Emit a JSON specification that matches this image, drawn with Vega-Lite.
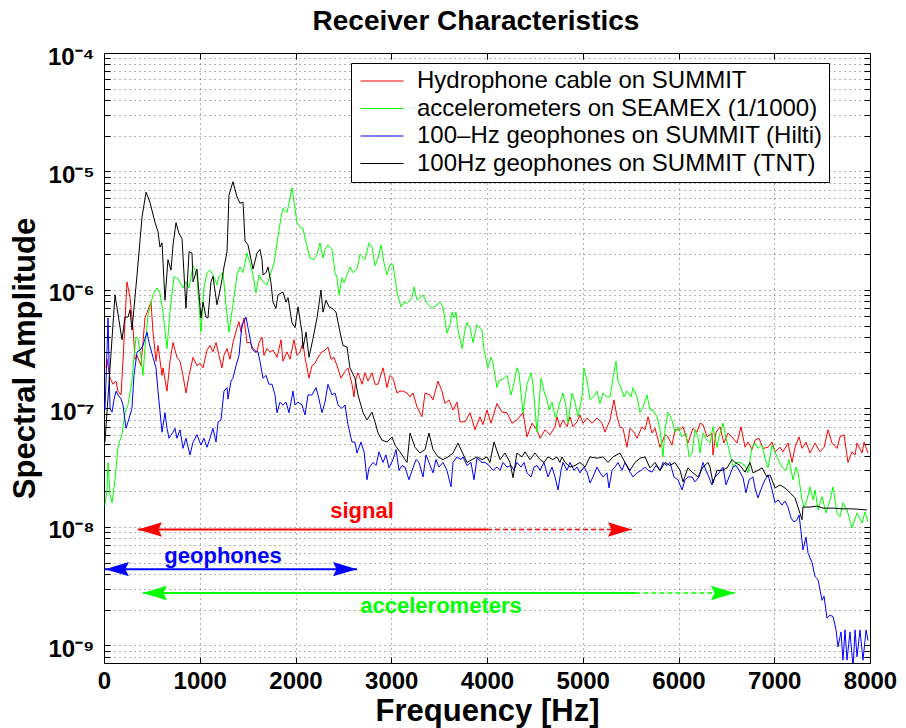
{
  "$schema": "https://vega.github.io/schema/vega-lite/v6.json",
  "width": 766,
  "height": 610,
  "autosize": {"type": "none"},
  "padding": {"left": 104, "top": 53, "right": 36, "bottom": 65},
  "background": "white",
  "config": {
    "font": "Liberation Sans",
    "view": {"stroke": "#000000", "strokeWidth": 1},
    "axis": {
      "domain": false,
      "grid": true,
      "gridDash": [1, 4],
      "gridColor": "#000000",
      "gridOpacity": 0.6,
      "tickColor": "#000000",
      "tickSize": -6,
      "labelColor": "#000000",
      "labelFontSize": 24,
      "labelFontWeight": "bold",
      "labelFlush": false,
      "labelOverlap": false,
      "labelBound": false,
      "titleColor": "#000000",
      "titleFontSize": 31,
      "titleFontWeight": "bold"
    }
  },
  "title": {"text": "Receiver Characteristics", "fontSize": 28, "fontWeight": "bold", "color": "#000000", "offset": 9, "anchor": "middle", "dx": -11},
  "datasets": {
    "hyd": [{"f":21,"a":2.2e-7},{"f":31,"a":2.6e-7},{"f":63,"a":1.8e-7},{"f":94,"a":1.6e-7},{"f":125,"a":1.7e-7},{"f":146,"a":1.4e-7},{"f":178,"a":1.3e-7},{"f":198,"a":2.5e-7},{"f":240,"a":1.17e-6},{"f":272,"a":8.6e-7},{"f":303,"a":4.8e-7},{"f":324,"a":2.6e-7},{"f":345,"a":2.8e-7},{"f":386,"a":2.3e-7},{"f":407,"a":3.6e-7},{"f":428,"a":5.8e-7},{"f":460,"a":6.8e-7},{"f":491,"a":7.9e-7},{"f":512,"a":4.4e-7},{"f":543,"a":2.5e-7},{"f":564,"a":3.4e-7},{"f":606,"a":1.9e-7},{"f":616,"a":2.2e-7},{"f":658,"a":1.4e-7},{"f":689,"a":2.5e-7},{"f":721,"a":3.6e-7},{"f":762,"a":2.7e-7},{"f":794,"a":2.5e-7},{"f":825,"a":1.9e-7},{"f":856,"a":1.35e-7},{"f":888,"a":1.9e-7},{"f":930,"a":2.7e-7},{"f":971,"a":2.3e-7},{"f":1003,"a":2.4e-7},{"f":1034,"a":2.2e-7},{"f":1076,"a":3.1e-7},{"f":1107,"a":3.4e-7},{"f":1138,"a":3.0e-7},{"f":1170,"a":3.6e-7},{"f":1201,"a":2.8e-7},{"f":1232,"a":2.2e-7},{"f":1253,"a":2.8e-7},{"f":1285,"a":3.2e-7},{"f":1316,"a":2.6e-7},{"f":1347,"a":3.6e-7},{"f":1389,"a":4.8e-7},{"f":1410,"a":5.4e-7},{"f":1431,"a":4.4e-7},{"f":1462,"a":5.8e-7},{"f":1493,"a":3.6e-7},{"f":1525,"a":3.6e-7},{"f":1556,"a":3.2e-7},{"f":1598,"a":3.0e-7},{"f":1619,"a":3.6e-7},{"f":1650,"a":4.0e-7},{"f":1671,"a":2.8e-7},{"f":1702,"a":3.2e-7},{"f":1734,"a":3.0e-7},{"f":1765,"a":3.1e-7},{"f":1807,"a":2.7e-7},{"f":1849,"a":3.8e-7},{"f":1869,"a":2.5e-7},{"f":1911,"a":3.0e-7},{"f":1943,"a":2.6e-7},{"f":1984,"a":3.8e-7},{"f":2016,"a":2.8e-7},{"f":2047,"a":3.0e-7},{"f":2078,"a":3.6e-7},{"f":2099,"a":2.7e-7},{"f":2141,"a":1.8e-7},{"f":2172,"a":2.3e-7},{"f":2204,"a":2.4e-7},{"f":2235,"a":2.7e-7},{"f":2277,"a":3.0e-7},{"f":2308,"a":3.1e-7},{"f":2339,"a":3.3e-7},{"f":2371,"a":2.6e-7},{"f":2402,"a":2.7e-7},{"f":2433,"a":2.3e-7},{"f":2475,"a":1.8e-7},{"f":2507,"a":2.0e-7},{"f":2548,"a":2.2e-7},{"f":2590,"a":1.6e-7},{"f":2611,"a":1.25e-7},{"f":2632,"a":1.8e-7},{"f":2653,"a":2.0e-7},{"f":2695,"a":1.6e-7},{"f":2726,"a":2.0e-7},{"f":2757,"a":1.7e-7},{"f":2799,"a":2.0e-7},{"f":2830,"a":1.6e-7},{"f":2862,"a":1.6e-7},{"f":2914,"a":2.2e-7},{"f":2956,"a":1.5e-7},{"f":2987,"a":1.9e-7},{"f":3018,"a":1.8e-7},{"f":3060,"a":1.35e-7},{"f":3091,"a":1.4e-7},{"f":3123,"a":1.4e-7},{"f":3165,"a":1.35e-7},{"f":3196,"a":1.25e-7},{"f":3227,"a":1.35e-7},{"f":3269,"a":1.03e-7},{"f":3321,"a":8.5e-8},{"f":3353,"a":1.35e-7},{"f":3405,"a":1.3e-7},{"f":3436,"a":1.18e-7},{"f":3488,"a":1.7e-7},{"f":3530,"a":1.4e-7},{"f":3561,"a":1.1e-7},{"f":3603,"a":1.18e-7},{"f":3645,"a":9.7e-8},{"f":3687,"a":1.13e-7},{"f":3718,"a":7.7e-8},{"f":3770,"a":7.7e-8},{"f":3823,"a":9.2e-8},{"f":3875,"a":6.6e-8},{"f":3927,"a":8.5e-8},{"f":3958,"a":7.3e-8},{"f":4000,"a":9.7e-8},{"f":4042,"a":7.5e-8},{"f":4104,"a":1.1e-7},{"f":4157,"a":9.3e-8},{"f":4209,"a":9.2e-8},{"f":4261,"a":7.5e-8},{"f":4313,"a":8.0e-8},{"f":4376,"a":9.2e-8},{"f":4418,"a":5.75e-8},{"f":4470,"a":7.5e-8},{"f":4522,"a":6.6e-8},{"f":4554,"a":5.6e-8},{"f":4606,"a":6.6e-8},{"f":4658,"a":6.0e-8},{"f":4710,"a":7.0e-8},{"f":4731,"a":8.5e-8},{"f":4762,"a":7.0e-8},{"f":4794,"a":8.0e-8},{"f":4836,"a":7.0e-8},{"f":4867,"a":8.5e-8},{"f":4898,"a":7.0e-8},{"f":4940,"a":7.7e-8},{"f":4971,"a":8.8e-8},{"f":5003,"a":7.5e-8},{"f":5045,"a":8.3e-8},{"f":5097,"a":7.5e-8},{"f":5149,"a":8.3e-8},{"f":5201,"a":7.5e-8},{"f":5232,"a":6.3e-8},{"f":5285,"a":8.0e-8},{"f":5326,"a":1.18e-7},{"f":5358,"a":8.5e-8},{"f":5389,"a":7.0e-8},{"f":5420,"a":6.8e-8},{"f":5462,"a":4.7e-8},{"f":5493,"a":6.8e-8},{"f":5535,"a":6.3e-8},{"f":5567,"a":5.6e-8},{"f":5619,"a":7.0e-8},{"f":5650,"a":6.6e-8},{"f":5682,"a":8.5e-8},{"f":5723,"a":6.2e-8},{"f":5755,"a":6.8e-8},{"f":5807,"a":4.7e-8},{"f":5859,"a":6.0e-8},{"f":5890,"a":5.75e-8},{"f":5932,"a":4.9e-8},{"f":5963,"a":6.6e-8},{"f":6016,"a":6.6e-8},{"f":6047,"a":7.0e-8},{"f":6099,"a":5.1e-8},{"f":6151,"a":6.8e-8},{"f":6193,"a":6.3e-8},{"f":6225,"a":7.5e-8},{"f":6256,"a":7.3e-8},{"f":6298,"a":5.75e-8},{"f":6350,"a":6.2e-8},{"f":6360,"a":4.05e-8},{"f":6392,"a":6.3e-8},{"f":6433,"a":7.0e-8},{"f":6475,"a":5.1e-8},{"f":6517,"a":6.2e-8},{"f":6559,"a":5.75e-8},{"f":6611,"a":5.1e-8},{"f":6653,"a":7.0e-8},{"f":6695,"a":4.7e-8},{"f":6726,"a":5.2e-8},{"f":6768,"a":4.5e-8},{"f":6799,"a":5.4e-8},{"f":6841,"a":5.6e-8},{"f":6883,"a":4.6e-8},{"f":6935,"a":4.7e-8},{"f":6977,"a":5.2e-8},{"f":7008,"a":4.3e-8},{"f":7060,"a":4.7e-8},{"f":7091,"a":4.3e-8},{"f":7144,"a":5.1e-8},{"f":7186,"a":3.5e-8},{"f":7217,"a":4.7e-8},{"f":7259,"a":5.75e-8},{"f":7290,"a":4.6e-8},{"f":7332,"a":5.2e-8},{"f":7374,"a":4.2e-8},{"f":7426,"a":5.1e-8},{"f":7478,"a":4.3e-8},{"f":7520,"a":4.7e-8},{"f":7562,"a":6.6e-8},{"f":7603,"a":5.1e-8},{"f":7656,"a":4.6e-8},{"f":7687,"a":5.75e-8},{"f":7729,"a":6.0e-8},{"f":7770,"a":3.5e-8},{"f":7812,"a":4.3e-8},{"f":7844,"a":4.05e-8},{"f":7864,"a":5.1e-8},{"f":7917,"a":4.2e-8},{"f":7938,"a":5.2e-8},{"f":7979,"a":4.2e-8}],
    "acc": [{"f":10,"a":1.53e-8},{"f":31,"a":2.05e-8},{"f":42,"a":3.5e-8},{"f":63,"a":1.86e-8},{"f":84,"a":1.6e-8},{"f":115,"a":2.5e-8},{"f":146,"a":4.7e-8},{"f":167,"a":5.4e-8},{"f":188,"a":6.0e-8},{"f":219,"a":9.2e-8},{"f":251,"a":1.07e-7},{"f":292,"a":1.7e-7},{"f":303,"a":2.2e-7},{"f":334,"a":4.0e-7},{"f":355,"a":3.9e-7},{"f":386,"a":2.7e-7},{"f":407,"a":1.9e-7},{"f":428,"a":3.2e-7},{"f":460,"a":6.2e-7},{"f":512,"a":9.1e-7},{"f":554,"a":1.04e-6},{"f":585,"a":9.4e-7},{"f":616,"a":6.5e-7},{"f":658,"a":3.2e-7},{"f":689,"a":6.5e-7},{"f":731,"a":1.3e-6},{"f":773,"a":1.24e-6},{"f":825,"a":1.04e-6},{"f":856,"a":1.17e-6},{"f":888,"a":1.04e-6},{"f":930,"a":1.6e-6},{"f":971,"a":1.34e-6},{"f":982,"a":9.6e-7},{"f":1013,"a":4.4e-7},{"f":1044,"a":1.04e-6},{"f":1076,"a":1.4e-6},{"f":1107,"a":1.47e-6},{"f":1138,"a":1.34e-6},{"f":1180,"a":1.1e-6},{"f":1201,"a":1.3e-6},{"f":1243,"a":1.4e-6},{"f":1274,"a":7.5e-7},{"f":1305,"a":4.4e-7},{"f":1347,"a":7.5e-7},{"f":1389,"a":1.34e-6},{"f":1420,"a":1.56e-6},{"f":1452,"a":1.4e-6},{"f":1493,"a":2.05e-6},{"f":1514,"a":1.8e-6},{"f":1556,"a":1.34e-6},{"f":1587,"a":9.4e-7},{"f":1619,"a":1.34e-6},{"f":1661,"a":1.17e-6},{"f":1702,"a":1.1e-6},{"f":1744,"a":1.4e-6},{"f":1776,"a":1.7e-6},{"f":1807,"a":2.5e-6},{"f":1849,"a":4.1e-6},{"f":1869,"a":4.9e-6},{"f":1911,"a":4.5e-6},{"f":1932,"a":5.4e-6},{"f":1963,"a":7.3e-6},{"f":1984,"a":5.5e-6},{"f":2016,"a":3.7e-6},{"f":2047,"a":3.4e-6},{"f":2078,"a":3.3e-6},{"f":2110,"a":2.5e-6},{"f":2151,"a":1.86e-6},{"f":2193,"a":1.8e-6},{"f":2225,"a":2.0e-6},{"f":2256,"a":2.5e-6},{"f":2287,"a":1.86e-6},{"f":2308,"a":2.2e-6},{"f":2339,"a":2.4e-6},{"f":2381,"a":2.2e-6},{"f":2413,"a":1.4e-6},{"f":2433,"a":1.27e-6},{"f":2454,"a":9.1e-7},{"f":2486,"a":1.27e-6},{"f":2507,"a":1.15e-6},{"f":2538,"a":1.34e-6},{"f":2569,"a":1.56e-6},{"f":2601,"a":1.4e-6},{"f":2642,"a":1.5e-6},{"f":2674,"a":2.0e-6},{"f":2726,"a":1.8e-6},{"f":2768,"a":2.5e-6},{"f":2799,"a":2.3e-6},{"f":2830,"a":1.6e-6},{"f":2862,"a":1.86e-6},{"f":2893,"a":2.4e-6},{"f":2924,"a":1.7e-6},{"f":2956,"a":1.34e-6},{"f":2987,"a":1.65e-6},{"f":3018,"a":1.65e-6},{"f":3060,"a":9.6e-7},{"f":3102,"a":7.2e-7},{"f":3133,"a":7.9e-7},{"f":3165,"a":7.7e-7},{"f":3196,"a":8.2e-7},{"f":3217,"a":8.7e-7},{"f":3238,"a":1.06e-6},{"f":3269,"a":8.2e-7},{"f":3300,"a":8.6e-7},{"f":3332,"a":9.1e-7},{"f":3373,"a":7.7e-7},{"f":3426,"a":7.0e-7},{"f":3478,"a":7.5e-7},{"f":3509,"a":7.9e-7},{"f":3540,"a":7.2e-7},{"f":3561,"a":5.6e-7},{"f":3582,"a":4.3e-7},{"f":3614,"a":5.1e-7},{"f":3635,"a":6.5e-7},{"f":3655,"a":5.8e-7},{"f":3676,"a":6.5e-7},{"f":3697,"a":4.6e-7},{"f":3739,"a":3.2e-7},{"f":3770,"a":4.6e-7},{"f":3791,"a":5.3e-7},{"f":3823,"a":4.8e-7},{"f":3854,"a":3.6e-7},{"f":3875,"a":4.3e-7},{"f":3896,"a":5.1e-7},{"f":3948,"a":4.6e-7},{"f":3969,"a":3.1e-7},{"f":3990,"a":2.6e-7},{"f":4010,"a":2.2e-7},{"f":4042,"a":2.7e-7},{"f":4063,"a":2.4e-7},{"f":4104,"a":1.5e-7},{"f":4125,"a":1.7e-7},{"f":4178,"a":1.8e-7},{"f":4209,"a":1.9e-7},{"f":4251,"a":1.3e-7},{"f":4272,"a":1.5e-7},{"f":4313,"a":2.2e-7},{"f":4334,"a":2.0e-7},{"f":4376,"a":9.2e-8},{"f":4418,"a":1.6e-7},{"f":4460,"a":2.0e-7},{"f":4480,"a":1.6e-7},{"f":4522,"a":6.3e-8},{"f":4564,"a":1.8e-7},{"f":4595,"a":1.4e-7},{"f":4627,"a":1.18e-7},{"f":4648,"a":9.7e-8},{"f":4679,"a":1.13e-7},{"f":4710,"a":8.5e-8},{"f":4721,"a":8.3e-8},{"f":4752,"a":1.07e-7},{"f":4794,"a":1.35e-7},{"f":4825,"a":1.03e-7},{"f":4846,"a":7.5e-8},{"f":4888,"a":1.35e-7},{"f":4919,"a":1.13e-7},{"f":4950,"a":8.5e-8},{"f":4992,"a":1.25e-7},{"f":5013,"a":2.2e-7},{"f":5045,"a":1.7e-7},{"f":5076,"a":1.18e-7},{"f":5107,"a":1.25e-7},{"f":5149,"a":1.4e-7},{"f":5180,"a":1.1e-7},{"f":5212,"a":1.35e-7},{"f":5253,"a":1.25e-7},{"f":5285,"a":1.25e-7},{"f":5316,"a":1.8e-7},{"f":5347,"a":2.5e-7},{"f":5368,"a":1.7e-7},{"f":5399,"a":1.5e-7},{"f":5431,"a":1.25e-7},{"f":5462,"a":1.4e-7},{"f":5504,"a":1.25e-7},{"f":5525,"a":1.5e-7},{"f":5567,"a":1.25e-7},{"f":5598,"a":9.2e-8},{"f":5630,"a":1.03e-7},{"f":5671,"a":1.3e-7},{"f":5702,"a":9.7e-8},{"f":5734,"a":9.7e-8},{"f":5776,"a":8.5e-8},{"f":5807,"a":6.6e-8},{"f":5838,"a":3.9e-8},{"f":5859,"a":6.6e-8},{"f":5890,"a":9.3e-8},{"f":5932,"a":8.0e-8},{"f":5963,"a":6.3e-8},{"f":5995,"a":7.0e-8},{"f":6037,"a":5.75e-8},{"f":6078,"a":6.2e-8},{"f":6110,"a":3.9e-8},{"f":6141,"a":4.2e-8},{"f":6172,"a":6.6e-8},{"f":6204,"a":5.75e-8},{"f":6225,"a":4.2e-8},{"f":6256,"a":6.2e-8},{"f":6298,"a":5.4e-8},{"f":6329,"a":5.1e-8},{"f":6360,"a":7.0e-8},{"f":6402,"a":4.7e-8},{"f":6423,"a":5.75e-8},{"f":6465,"a":7.5e-8},{"f":6496,"a":5.6e-8},{"f":6528,"a":4.5e-8},{"f":6569,"a":3.2e-8},{"f":6601,"a":3.5e-8},{"f":6643,"a":3.5e-8},{"f":6695,"a":3.3e-8},{"f":6726,"a":2.86e-8},{"f":6768,"a":4.7e-8},{"f":6799,"a":5.1e-8},{"f":6830,"a":4.6e-8},{"f":6872,"a":4.9e-8},{"f":6904,"a":3.8e-8},{"f":6935,"a":3.15e-8},{"f":6977,"a":4.9e-8},{"f":7008,"a":4.3e-8},{"f":7040,"a":3.7e-8},{"f":7081,"a":3.2e-8},{"f":7123,"a":3.0e-8},{"f":7154,"a":3.7e-8},{"f":7196,"a":2.5e-8},{"f":7227,"a":3.2e-8},{"f":7248,"a":2.9e-8},{"f":7290,"a":1.69e-8},{"f":7311,"a":1.47e-8},{"f":7342,"a":1.69e-8},{"f":7374,"a":2.18e-8},{"f":7405,"a":1.69e-8},{"f":7426,"a":2.05e-8},{"f":7457,"a":1.39e-8},{"f":7499,"a":1.8e-8},{"f":7541,"a":1.31e-8},{"f":7583,"a":1.69e-8},{"f":7614,"a":2.18e-8},{"f":7656,"a":1.31e-8},{"f":7687,"a":1.22e-8},{"f":7718,"a":1.6e-8},{"f":7760,"a":1.39e-8},{"f":7812,"a":9.8e-9},{"f":7864,"a":1.31e-8},{"f":7917,"a":1.08e-8},{"f":7948,"a":1.34e-8},{"f":7979,"a":1.1e-8}],
    "hil": [{"f":10,"a":9.7e-8},{"f":21,"a":1.7e-7},{"f":42,"a":5.8e-7},{"f":63,"a":1.0e-7},{"f":84,"a":9.3e-8},{"f":104,"a":1.18e-7},{"f":125,"a":1.4e-7},{"f":146,"a":1.3e-7},{"f":178,"a":1.2e-7},{"f":198,"a":1.07e-7},{"f":230,"a":6.8e-8},{"f":251,"a":7.7e-8},{"f":292,"a":1.0e-7},{"f":313,"a":1.9e-7},{"f":345,"a":3.0e-7},{"f":376,"a":3.1e-7},{"f":407,"a":3.4e-7},{"f":449,"a":4.4e-7},{"f":470,"a":3.6e-7},{"f":512,"a":2.7e-7},{"f":543,"a":2.2e-7},{"f":564,"a":1.4e-7},{"f":606,"a":6.3e-8},{"f":637,"a":9.2e-8},{"f":658,"a":6.8e-8},{"f":679,"a":5.6e-8},{"f":721,"a":6.3e-8},{"f":741,"a":6.8e-8},{"f":762,"a":5.6e-8},{"f":794,"a":6.6e-8},{"f":825,"a":4.6e-8},{"f":856,"a":5.6e-8},{"f":898,"a":4.05e-8},{"f":930,"a":5.2e-8},{"f":971,"a":6.0e-8},{"f":1013,"a":4.9e-8},{"f":1044,"a":5.6e-8},{"f":1076,"a":4.7e-8},{"f":1107,"a":5.6e-8},{"f":1138,"a":6.8e-8},{"f":1170,"a":5.2e-8},{"f":1191,"a":7.7e-8},{"f":1222,"a":8.0e-8},{"f":1253,"a":1.4e-7},{"f":1285,"a":1.5e-7},{"f":1295,"a":1.2e-7},{"f":1326,"a":1.7e-7},{"f":1347,"a":1.8e-7},{"f":1379,"a":2.3e-7},{"f":1410,"a":2.8e-7},{"f":1441,"a":5.1e-7},{"f":1462,"a":5.4e-7},{"f":1483,"a":5.9e-7},{"f":1504,"a":4.8e-7},{"f":1546,"a":3.2e-7},{"f":1577,"a":3.0e-7},{"f":1608,"a":3.0e-7},{"f":1629,"a":2.5e-7},{"f":1661,"a":1.8e-7},{"f":1692,"a":1.9e-7},{"f":1723,"a":1.6e-7},{"f":1755,"a":1.6e-7},{"f":1786,"a":1.3e-7},{"f":1807,"a":9.2e-8},{"f":1838,"a":1.13e-7},{"f":1869,"a":1.07e-7},{"f":1901,"a":1.13e-7},{"f":1932,"a":9.2e-8},{"f":1974,"a":1.4e-7},{"f":1995,"a":1.07e-7},{"f":2026,"a":1.13e-7},{"f":2068,"a":1.07e-7},{"f":2099,"a":8.8e-8},{"f":2131,"a":1.3e-7},{"f":2172,"a":1.3e-7},{"f":2214,"a":1.5e-7},{"f":2235,"a":1.3e-7},{"f":2277,"a":9.2e-8},{"f":2308,"a":1.13e-7},{"f":2339,"a":1.6e-7},{"f":2381,"a":1.3e-7},{"f":2413,"a":1.35e-7},{"f":2444,"a":1.07e-7},{"f":2486,"a":1.0e-7},{"f":2517,"a":1.07e-7},{"f":2548,"a":7.3e-8},{"f":2590,"a":5.2e-8},{"f":2621,"a":5.2e-8},{"f":2642,"a":4.2e-8},{"f":2684,"a":5.2e-8},{"f":2716,"a":4.3e-8},{"f":2747,"a":2.5e-8},{"f":2768,"a":3.15e-8},{"f":2810,"a":3.5e-8},{"f":2841,"a":3.3e-8},{"f":2872,"a":4.3e-8},{"f":2914,"a":3.5e-8},{"f":2945,"a":4.05e-8},{"f":2977,"a":3.15e-8},{"f":3018,"a":3.7e-8},{"f":3050,"a":4.5e-8},{"f":3081,"a":3.0e-8},{"f":3112,"a":3.3e-8},{"f":3144,"a":3.2e-8},{"f":3185,"a":2.5e-8},{"f":3227,"a":3.15e-8},{"f":3259,"a":3.7e-8},{"f":3290,"a":3.5e-8},{"f":3332,"a":2.64e-8},{"f":3363,"a":4.05e-8},{"f":3394,"a":3.5e-8},{"f":3436,"a":2.86e-8},{"f":3467,"a":3.7e-8},{"f":3498,"a":3.2e-8},{"f":3540,"a":3.5e-8},{"f":3582,"a":3.0e-8},{"f":3624,"a":2.18e-8},{"f":3645,"a":3.5e-8},{"f":3687,"a":3.9e-8},{"f":3728,"a":3.7e-8},{"f":3749,"a":3.9e-8},{"f":3791,"a":3.3e-8},{"f":3833,"a":3.5e-8},{"f":3864,"a":2.5e-8},{"f":3896,"a":3.8e-8},{"f":3948,"a":3.5e-8},{"f":3979,"a":3.5e-8},{"f":4021,"a":3.3e-8},{"f":4063,"a":3.0e-8},{"f":4104,"a":3.2e-8},{"f":4136,"a":3.0e-8},{"f":4167,"a":3.5e-8},{"f":4209,"a":3.2e-8},{"f":4251,"a":3.3e-8},{"f":4282,"a":3.0e-8},{"f":4313,"a":3.5e-8},{"f":4355,"a":3.2e-8},{"f":4387,"a":3.5e-8},{"f":4418,"a":2.86e-8},{"f":4460,"a":2.64e-8},{"f":4491,"a":3.2e-8},{"f":4522,"a":3.3e-8},{"f":4554,"a":3.0e-8},{"f":4595,"a":3.5e-8},{"f":4637,"a":2.64e-8},{"f":4679,"a":3.2e-8},{"f":4710,"a":2.64e-8},{"f":4742,"a":2.05e-8},{"f":4773,"a":3.0e-8},{"f":4794,"a":3.5e-8},{"f":4836,"a":3.0e-8},{"f":4867,"a":3.5e-8},{"f":4909,"a":3.0e-8},{"f":4940,"a":3.2e-8},{"f":4971,"a":2.86e-8},{"f":5013,"a":3.2e-8},{"f":5045,"a":2.9e-8},{"f":5076,"a":2.35e-8},{"f":5107,"a":2.64e-8},{"f":5149,"a":3.2e-8},{"f":5180,"a":2.86e-8},{"f":5212,"a":2.64e-8},{"f":5253,"a":2.86e-8},{"f":5274,"a":2.13e-8},{"f":5306,"a":3.0e-8},{"f":5337,"a":3.2e-8},{"f":5368,"a":3.5e-8},{"f":5410,"a":3.0e-8},{"f":5441,"a":3.5e-8},{"f":5493,"a":2.9e-8},{"f":5525,"a":2.64e-8},{"f":5567,"a":2.86e-8},{"f":5609,"a":3.0e-8},{"f":5650,"a":3.2e-8},{"f":5682,"a":3.0e-8},{"f":5723,"a":2.9e-8},{"f":5765,"a":3.3e-8},{"f":5807,"a":3.0e-8},{"f":5838,"a":3.5e-8},{"f":5880,"a":3.3e-8},{"f":5911,"a":3.5e-8},{"f":5953,"a":2.64e-8},{"f":5995,"a":2.5e-8},{"f":6037,"a":2.05e-8},{"f":6068,"a":2.5e-8},{"f":6099,"a":2.64e-8},{"f":6141,"a":2.64e-8},{"f":6172,"a":2.4e-8},{"f":6214,"a":2.64e-8},{"f":6256,"a":3.5e-8},{"f":6287,"a":3.0e-8},{"f":6308,"a":2.75e-8},{"f":6350,"a":2.26e-8},{"f":6381,"a":2.64e-8},{"f":6423,"a":2.86e-8},{"f":6465,"a":3.2e-8},{"f":6496,"a":2.26e-8},{"f":6528,"a":2.64e-8},{"f":6569,"a":3.2e-8},{"f":6601,"a":3.3e-8},{"f":6632,"a":3.0e-8},{"f":6674,"a":2.6e-8},{"f":6705,"a":1.94e-8},{"f":6737,"a":2.5e-8},{"f":6778,"a":2.64e-8},{"f":6799,"a":2.13e-8},{"f":6830,"a":1.76e-8},{"f":6872,"a":2.18e-8},{"f":6904,"a":2.5e-8},{"f":6935,"a":2.75e-8},{"f":6977,"a":2.05e-8},{"f":7008,"a":1.6e-8},{"f":7040,"a":1.69e-8},{"f":7081,"a":1.53e-8},{"f":7112,"a":1.65e-8},{"f":7144,"a":1.47e-8},{"f":7175,"a":1.19e-8},{"f":7206,"a":1.1e-8},{"f":7238,"a":1.15e-8},{"f":7259,"a":1.26e-8},{"f":7280,"a":9.1e-9},{"f":7300,"a":6.4e-9},{"f":7332,"a":8.2e-9},{"f":7353,"a":6.0e-9},{"f":7395,"a":5.0e-9},{"f":7426,"a":3.8e-9},{"f":7457,"a":3.6e-9},{"f":7499,"a":2.4e-9},{"f":7520,"a":2.6e-9},{"f":7551,"a":1.7e-9},{"f":7583,"a":1.8e-9},{"f":7614,"a":1.75e-9},{"f":7645,"a":1.35e-9},{"f":7666,"a":9.7e-10},{"f":7697,"a":1.3e-9},{"f":7718,"a":7.5e-10},{"f":7739,"a":1.35e-9},{"f":7760,"a":7.5e-10},{"f":7791,"a":1.3e-9},{"f":7823,"a":6.5e-10},{"f":7844,"a":1.35e-9},{"f":7864,"a":8.0e-10},{"f":7896,"a":1.35e-9},{"f":7927,"a":7.5e-10},{"f":7959,"a":1.35e-9},{"f":7979,"a":1.1e-9}],
    "tnt": [{"f":10,"a":5.2e-8},{"f":115,"a":9.1e-7},{"f":188,"a":3.8e-7},{"f":219,"a":5.9e-7},{"f":251,"a":5.9e-7},{"f":272,"a":6.8e-7},{"f":292,"a":4.6e-7},{"f":345,"a":1.34e-6},{"f":397,"a":4.1e-6},{"f":439,"a":6.7e-6},{"f":480,"a":5.5e-6},{"f":533,"a":3.7e-6},{"f":564,"a":3.1e-6},{"f":585,"a":2.3e-6},{"f":606,"a":2.5e-6},{"f":637,"a":8.2e-7},{"f":668,"a":1.8e-6},{"f":700,"a":1.47e-6},{"f":721,"a":2.4e-6},{"f":752,"a":3.7e-6},{"f":783,"a":3.0e-6},{"f":815,"a":2.7e-6},{"f":856,"a":7.0e-7},{"f":888,"a":2.1e-6},{"f":919,"a":2.05e-6},{"f":930,"a":1.17e-6},{"f":971,"a":1.5e-6},{"f":982,"a":1.17e-6},{"f":1013,"a":5.8e-7},{"f":1034,"a":7.9e-7},{"f":1065,"a":5.9e-7},{"f":1086,"a":5.8e-7},{"f":1117,"a":1.17e-6},{"f":1138,"a":1.3e-6},{"f":1180,"a":7.5e-7},{"f":1222,"a":1.1e-6},{"f":1253,"a":1.56e-6},{"f":1285,"a":2.1e-6},{"f":1305,"a":6.3e-6},{"f":1347,"a":8.2e-6},{"f":1389,"a":6.1e-6},{"f":1420,"a":5.4e-6},{"f":1452,"a":5.5e-6},{"f":1473,"a":2.6e-6},{"f":1504,"a":2.4e-6},{"f":1556,"a":1.5e-6},{"f":1598,"a":2.05e-6},{"f":1629,"a":2.2e-6},{"f":1650,"a":1.8e-6},{"f":1661,"a":1.34e-6},{"f":1692,"a":1.4e-6},{"f":1713,"a":1.56e-6},{"f":1744,"a":1.15e-6},{"f":1765,"a":7.9e-7},{"f":1796,"a":7.0e-7},{"f":1817,"a":9.1e-7},{"f":1869,"a":9.6e-7},{"f":1901,"a":7.9e-7},{"f":1922,"a":8.6e-7},{"f":1963,"a":5.3e-7},{"f":1995,"a":4.8e-7},{"f":2026,"a":7.2e-7},{"f":2068,"a":4.4e-7},{"f":2078,"a":3.2e-7},{"f":2110,"a":4.4e-7},{"f":2141,"a":2.7e-7},{"f":2183,"a":3.9e-7},{"f":2225,"a":5.8e-7},{"f":2266,"a":1.0e-6},{"f":2287,"a":6.5e-7},{"f":2319,"a":8.2e-7},{"f":2350,"a":7.2e-7},{"f":2381,"a":7.0e-7},{"f":2423,"a":6.5e-7},{"f":2465,"a":4.4e-7},{"f":2496,"a":3.4e-7},{"f":2538,"a":3.3e-7},{"f":2569,"a":2.2e-7},{"f":2621,"a":1.8e-7},{"f":2653,"a":1.3e-7},{"f":2705,"a":9.2e-8},{"f":2747,"a":8.0e-8},{"f":2799,"a":9.3e-8},{"f":2830,"a":7.7e-8},{"f":2862,"a":6.2e-8},{"f":2903,"a":5.4e-8},{"f":2956,"a":5.2e-8},{"f":3008,"a":5.75e-8},{"f":3039,"a":4.9e-8},{"f":3091,"a":4.3e-8},{"f":3144,"a":3.7e-8},{"f":3165,"a":3.5e-8},{"f":3196,"a":6.2e-8},{"f":3248,"a":4.7e-8},{"f":3300,"a":4.2e-8},{"f":3353,"a":4.5e-8},{"f":3394,"a":6.2e-8},{"f":3436,"a":4.5e-8},{"f":3488,"a":3.9e-8},{"f":3540,"a":3.7e-8},{"f":3593,"a":3.9e-8},{"f":3645,"a":4.2e-8},{"f":3697,"a":5.1e-8},{"f":3739,"a":4.3e-8},{"f":3791,"a":3.5e-8},{"f":3843,"a":3.7e-8},{"f":3896,"a":3.9e-8},{"f":3948,"a":3.7e-8},{"f":4000,"a":3.9e-8},{"f":4031,"a":3.5e-8},{"f":4073,"a":5.2e-8},{"f":4136,"a":3.7e-8},{"f":4188,"a":4.2e-8},{"f":4240,"a":3.5e-8},{"f":4272,"a":2.6e-8},{"f":4313,"a":4.2e-8},{"f":4366,"a":3.9e-8},{"f":4397,"a":4.3e-8},{"f":4449,"a":3.7e-8},{"f":4501,"a":4.2e-8},{"f":4554,"a":3.7e-8},{"f":4595,"a":3.5e-8},{"f":4637,"a":3.9e-8},{"f":4689,"a":3.7e-8},{"f":4731,"a":3.9e-8},{"f":4762,"a":3.5e-8},{"f":4783,"a":3.9e-8},{"f":4815,"a":3.5e-8},{"f":4867,"a":3.2e-8},{"f":4919,"a":3.3e-8},{"f":4971,"a":3.5e-8},{"f":5024,"a":3.2e-8},{"f":5076,"a":3.9e-8},{"f":5149,"a":3.8e-8},{"f":5212,"a":3.9e-8},{"f":5264,"a":3.5e-8},{"f":5316,"a":3.9e-8},{"f":5389,"a":4.2e-8},{"f":5441,"a":3.5e-8},{"f":5493,"a":3.0e-8},{"f":5546,"a":3.5e-8},{"f":5598,"a":3.8e-8},{"f":5650,"a":3.9e-8},{"f":5702,"a":3.15e-8},{"f":5755,"a":3.5e-8},{"f":5807,"a":3.0e-8},{"f":5859,"a":3.5e-8},{"f":5911,"a":3.3e-8},{"f":5963,"a":3.5e-8},{"f":6016,"a":3.0e-8},{"f":6047,"a":2.4e-8},{"f":6099,"a":3.15e-8},{"f":6151,"a":2.86e-8},{"f":6204,"a":2.64e-8},{"f":6256,"a":3.2e-8},{"f":6308,"a":3.5e-8},{"f":6329,"a":3.2e-8},{"f":6360,"a":2.35e-8},{"f":6402,"a":3.0e-8},{"f":6454,"a":3.0e-8},{"f":6507,"a":3.15e-8},{"f":6559,"a":3.7e-8},{"f":6590,"a":3.5e-8},{"f":6643,"a":3.3e-8},{"f":6695,"a":2.9e-8},{"f":6747,"a":3.5e-8},{"f":6778,"a":2.86e-8},{"f":6830,"a":3.0e-8},{"f":6872,"a":3.15e-8},{"f":6924,"a":2.64e-8},{"f":6956,"a":2.75e-8},{"f":7008,"a":2.13e-8},{"f":7060,"a":2.26e-8},{"f":7112,"a":2.13e-8},{"f":7165,"a":1.94e-8},{"f":7217,"a":1.76e-8},{"f":7248,"a":1.47e-8},{"f":7290,"a":1.15e-8},{"f":7300,"a":1.47e-8},{"f":7374,"a":1.47e-8},{"f":7447,"a":1.5e-8},{"f":7510,"a":1.44e-8},{"f":7614,"a":1.44e-8},{"f":7718,"a":1.42e-8},{"f":7823,"a":1.42e-8},{"f":7969,"a":1.39e-8}],
    "arrows": [
      {"label": "signal", "start": 355, "solidEnd": 4000, "end": 5514, "level": 9.5e-9, "textF": 2695, "textA": 1.36e-8},
      {"label": "geophones", "start": 10, "solidEnd": 2642, "end": 2642, "level": 4.4e-9, "textF": 1243, "textA": 5.7e-9},
      {"label": "accelerometers", "start": 407, "solidEnd": 5550, "end": 6590, "level": 2.77e-9, "textF": 3520, "textA": 2.15e-9}
    ]
  },
  "encoding": {
    "x": {
      "field": "f", "type": "quantitative",
      "scale": {"domain": [0, 8000], "nice": false, "zero": false},
      "title": "Frequency [Hz]",
      "axis": {"values": [0, 1000, 2000, 3000, 4000, 5000, 6000, 7000, 8000], "format": "d", "labelPadding": 12, "titlePadding": 3}
    },
    "y": {
      "field": "a", "type": "quantitative",
      "scale": {"type": "log", "domain": [7.1e-10, 1e-4], "nice": false},
      "title": "Spectral Amplitude",
      "axis": {
        "values": [8e-10, 9e-10, 1e-9, 2e-9, 3e-9, 4e-9, 5e-9, 6e-9, 7e-9, 8e-9, 9e-9, 1e-8, 2e-8, 3e-8, 4e-8, 5e-8, 6e-8, 7e-8, 8e-8, 9e-8, 1e-7, 2e-7, 3e-7, 4e-7, 5e-7, 6e-7, 7e-7, 8e-7, 9e-7, 1e-6, 2e-6, 3e-6, 4e-6, 5e-6, 6e-6, 7e-6, 8e-6, 9e-6, 1e-5, 2e-5, 3e-5, 4e-5, 5e-5, 6e-5, 7e-5, 8e-5, 9e-5, 1e-4],
        "labelExpr": "abs(log(datum.value)/LN10 - round(log(datum.value)/LN10)) < 0.01 ? '10' + ['⁻⁹','⁻⁸','⁻⁷','⁻⁶','⁻⁵','⁻⁴'][round(log(datum.value)/LN10) + 9] : ''",
        "labelPadding": 16,
        "labelOffset": 4,
        "titlePadding": 6
      }
    }
  },
  "layer": [
    {
      "layer": [
        {
          "data": {"name": "hyd"},
          "mark": {"type": "line", "strokeWidth": 1, "clip": true},
          "encoding": {
            "color": {
              "datum": "Hydrophone cable on SUMMIT", "type": "nominal", "title": null,
              "scale": {
                "domain": ["Hydrophone cable on SUMMIT", "accelerometers on SEAMEX (1/1000)", "100–Hz geophones on SUMMIT (Hilti)", "100Hz geophones on SUMMIT (TNT)", "signal", "geophones", "accelerometers"],
                "range": ["#ff0000", "#00ff00", "#0000ff", "#000000", "#ff0000", "#0000ff", "#00ff00"]
              },
              "legend": {
                "values": ["Hydrophone cable on SUMMIT", "accelerometers on SEAMEX (1/1000)", "100–Hz geophones on SUMMIT (Hilti)", "100Hz geophones on SUMMIT (TNT)"],
                "title": null,
                "orient": "none",
                "legendX": 247,
                "legendY": 10,
                "symbolType": "stroke",
                "symbolSize": 1849,
                "symbolStrokeWidth": 1,
                "symbolOffset": 3,
                "labelFontSize": 24,
                "labelColor": "#000000",
                "labelLimit": 600,
                "labelOffset": 13,
                "strokeColor": "#000000",
                "fillColor": "#ffffff",
                "padding": 6,
                "rowPadding": 3.5,
                "clipHeight": 24
              }
            }
          }
        },
        {
          "data": {"name": "acc"},
          "mark": {"type": "line", "strokeWidth": 1, "clip": true},
          "encoding": {"color": {"datum": "accelerometers on SEAMEX (1/1000)", "type": "nominal", "title": null}}
        },
        {
          "data": {"name": "hil"},
          "mark": {"type": "line", "strokeWidth": 1, "clip": true},
          "encoding": {"color": {"datum": "100–Hz geophones on SUMMIT (Hilti)", "type": "nominal", "title": null}}
        },
        {
          "data": {"name": "tnt"},
          "mark": {"type": "line", "strokeWidth": 1, "clip": true},
          "encoding": {"color": {"datum": "100Hz geophones on SUMMIT (TNT)", "type": "nominal", "title": null}}
        },
        {
          "data": {"name": "arrows"},
          "mark": {"type": "rule"},
          "encoding": {
            "x": {"field": "start", "type": "quantitative", "title": "Frequency [Hz]"},
            "x2": {"field": "solidEnd"},
            "y": {"field": "level", "type": "quantitative", "title": "Spectral Amplitude"},
            "color": {"field": "label", "type": "nominal", "title": null},
            "strokeWidth": {"field": "label", "type": "ordinal", "scale": {"domain": ["signal", "geophones", "accelerometers"], "range": [2, 2, 3.5]}, "legend": null}
          }
        },
        {
          "data": {"name": "arrows"},
          "mark": {"type": "rule", "strokeWidth": 1.5, "strokeDash": [5, 3]},
          "encoding": {
            "x": {"field": "solidEnd", "type": "quantitative", "title": "Frequency [Hz]"},
            "x2": {"field": "end"},
            "y": {"field": "level", "type": "quantitative", "title": "Spectral Amplitude"},
            "color": {"field": "label", "type": "nominal", "title": null}
          }
        },
        {
          "data": {"name": "arrows"},
          "mark": {"type": "point", "shape": "M0,0L2,-0.6L1.7,0L2,0.6Z", "size": 576, "filled": true, "opacity": 1, "strokeWidth": 0},
          "encoding": {
            "x": {"field": "start", "type": "quantitative", "title": "Frequency [Hz]"},
            "y": {"field": "level", "type": "quantitative", "title": "Spectral Amplitude"},
            "color": {"field": "label", "type": "nominal", "title": null}
          }
        },
        {
          "data": {"name": "arrows"},
          "mark": {"type": "point", "shape": "M0,0L-2,-0.6L-1.7,0L-2,0.6Z", "size": 576, "filled": true, "opacity": 1, "strokeWidth": 0},
          "encoding": {
            "x": {"field": "end", "type": "quantitative", "title": "Frequency [Hz]"},
            "y": {"field": "level", "type": "quantitative", "title": "Spectral Amplitude"},
            "color": {"field": "label", "type": "nominal", "title": null}
          }
        },
        {
          "data": {"name": "arrows"},
          "mark": {"type": "text", "fontSize": 22, "fontWeight": "bold", "align": "center", "baseline": "middle"},
          "encoding": {
            "x": {"field": "textF", "type": "quantitative", "title": "Frequency [Hz]"},
            "y": {"field": "textA", "type": "quantitative", "title": "Spectral Amplitude"},
            "text": {"field": "label"},
            "color": {"field": "label", "type": "nominal", "title": null}
          }
        }
      ]
    },
    {
      "data": {"name": "tnt"},
      "mark": {"type": "line", "opacity": 0},
      "encoding": {
        "x": {"field": "f", "type": "quantitative", "axis": {"orient": "top", "values": [0, 1000, 2000, 3000, 4000, 5000, 6000, 7000, 8000], "labels": false, "grid": false, "title": null, "tickSize": -6}},
        "y": {"field": "a", "type": "quantitative", "axis": {"orient": "right", "values": [8e-10, 9e-10, 1e-9, 2e-9, 3e-9, 4e-9, 5e-9, 6e-9, 7e-9, 8e-9, 9e-9, 1e-8, 2e-8, 3e-8, 4e-8, 5e-8, 6e-8, 7e-8, 8e-8, 9e-8, 1e-7, 2e-7, 3e-7, 4e-7, 5e-7, 6e-7, 7e-7, 8e-7, 9e-7, 1e-6, 2e-6, 3e-6, 4e-6, 5e-6, 6e-6, 7e-6, 8e-6, 9e-6, 1e-5, 2e-5, 3e-5, 4e-5, 5e-5, 6e-5, 7e-5, 8e-5, 9e-5, 1e-4], "labels": false, "grid": false, "title": null, "tickSize": -6}}
      }
    }
  ],
  "resolve": {"axis": {"x": "independent", "y": "independent"}}
}
